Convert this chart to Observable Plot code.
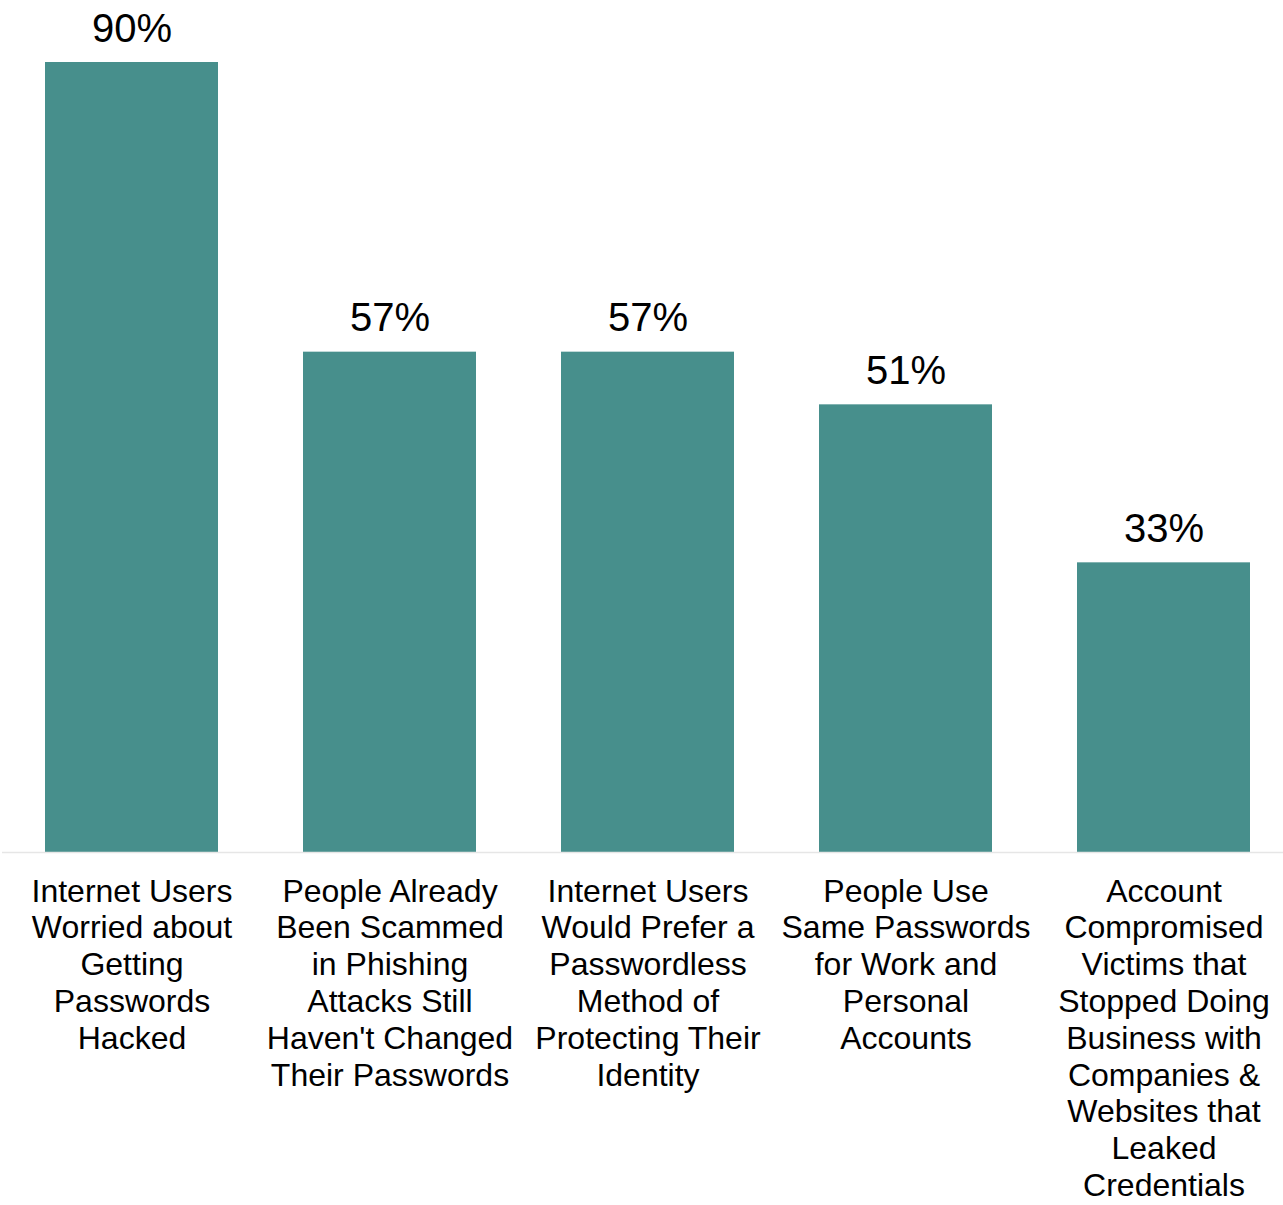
<!DOCTYPE html>
<html>
<head>
<meta charset="utf-8">
<script src="https://cdn.jsdelivr.net/npm/d3@7"></script>
<script src="https://cdn.jsdelivr.net/npm/@observablehq/plot@0.6"></script>
<style>
  html, body { margin: 0; padding: 0; background: #ffffff; }
  #chart svg { display: block; }
</style>
</head>
<body>
<div id="chart"></div>
<script>
const categories = [
  "Internet Users\nWorried about\nGetting\nPasswords\nHacked",
  "People Already\nBeen Scammed\nin Phishing\nAttacks Still\nHaven't Changed\nTheir Passwords",
  "Internet Users\nWould Prefer a\nPasswordless\nMethod of\nProtecting Their\nIdentity",
  "People Use\nSame Passwords\nfor Work and\nPersonal\nAccounts",
  "Account\nCompromised\nVictims that\nStopped Doing\nBusiness with\nCompanies &\nWebsites that\nLeaked\nCredentials"
];
const values = [90, 57, 57, 51, 33];
const valueLabels = ["90%", "57%", "57%", "51%", "33%"];

const data = categories.map((c, i) => ({category: c, value: values[i], label: valueLabels[i]}));

const chart = Plot.plot({
  width: 1283,
  height: 1205,
  marginTop: 62,
  marginBottom: 353,
  marginLeft: 2,
  marginRight: 0,
  style: {fontFamily: "'Liberation Sans', Arial, Helvetica, sans-serif", background: "#ffffff", color: "#000000"},
  x: {domain: categories, paddingInner: 0.3295, paddingOuter: 0.1473, align: 0.566, label: null},
  y: {domain: [0, 90], axis: null},
  marks: [
    Plot.barY(data, {x: "category", y: "value", fill: "#478f8c"}),
    Plot.ruleY([0], {stroke: "#e6e6e6", strokeWidth: 1.5}),
    Plot.text(data, {x: "category", y: "value", text: "label", lineAnchor: "bottom", dy: -21, fontSize: 40, fill: "#000000"}),
    Plot.axisX({tickSize: 0, tickPadding: 23, fontSize: 32, lineHeight: 1.15, fill: "#000000", label: null, textOverflow: null})
  ]
});
document.getElementById("chart").appendChild(chart);
</script>
</body>
</html>
